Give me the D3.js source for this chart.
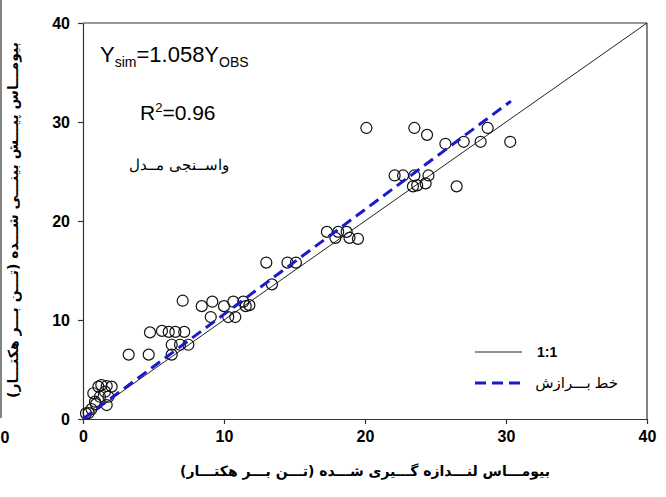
<!DOCTYPE html>
<html lang="fa">
<head>
	<meta charset="UTF-8">
	<script src="https://d3js.org/d3.v7.min.js"></script>
	<title>Biomass calibration</title>
	<style>
		body { margin: 0; background: #fff; }
		svg { display: block; }
		.tick text { font-family: "Liberation Sans", Arial, sans-serif; font-weight: bold; font-size: 16px; }
	</style>
</head>
<body>
	<svg width="666" height="497"></svg>
	<script>
		// observed vs simulated biomass (t/ha)
		const obs = [
			0.21, 0.85, 0.92, 0.73, 1.09, 1.3, 1.68, 2.03, 1.56, 1.2, 1.8, 1.68, 0.4, 0.6,
			3.24, 4.66, 4.75, 5.6, 6.08, 6.55, 7.18, 6.29, 6.88, 7.47, 6.29, 7.07,
			8.42, 9.17, 10.0, 10.66, 11.37, 11.54, 9.06, 10.3, 10.8,
			13.0, 14.5, 15.1, 13.4, 11.8,
			17.3, 17.9, 18.1, 18.7, 18.9, 19.5,
			20.1, 22.1, 22.7, 23.5, 24.5, 23.4, 23.7, 24.3, 26.5,
			23.5, 24.4, 25.7, 27.0, 28.2, 28.7, 30.3
		];
		const sim = [
			0.57, 1.75, 1.5, 2.6, 3.27, 3.43, 3.33, 3.27, 2.76, 2.25, 2.25, 1.41, 0.6, 1.0,
			6.5, 6.5, 8.75, 8.9, 8.8, 8.8, 8.8, 7.5, 7.5, 7.5, 6.5, 11.95,
			11.4, 11.85, 11.4, 11.85, 11.85, 11.4, 10.3, 10.3, 10.3,
			15.8, 15.8, 15.8, 13.6, 11.5,
			18.9, 18.3, 18.9, 18.9, 18.3, 18.2,
			29.4, 24.6, 24.6, 24.6, 24.6, 23.5, 23.6, 23.8, 23.5,
			29.4, 28.7, 27.8, 28.0, 28.0, 29.4, 28.0
		];
		const ticks = [0, 10, 20, 30, 40];
		const slope = 1.058;
		const fitEnd = 30.35;

		const svg = d3.select('svg');
		const x = d3.scaleLinear().domain([0, 40]).range([83, 647]);
		const y = d3.scaleLinear().domain([0, 40]).range([419, 23]);

		// stray edge of neighbouring panel
		svg.append('line').attr('x1', 1).attr('x2', 1).attr('y1', 0).attr('y2', 418)
			.attr('stroke', '#333').attr('stroke-width', 1.2);
		svg.append('text').attr('x', 5).attr('y', 443).attr('text-anchor', 'middle')
			.style('font-family', '"Liberation Sans", Arial, sans-serif').style('font-weight', 'bold')
			.style('font-size', '16px').text('0');

		// frame
		svg.append('line').attr('x1', x(0)).attr('x2', x(40)).attr('y1', y(40)).attr('y2', y(40))
			.attr('stroke', '#333').attr('stroke-width', 1.2);
		svg.append('line').attr('x1', x(40)).attr('x2', x(40)).attr('y1', y(40)).attr('y2', y(0))
			.attr('stroke', '#333').attr('stroke-width', 1.2);

		const xAxis = svg.append('g').attr('transform', `translate(0,${y(0)})`)
			.call(d3.axisBottom(x).tickValues(ticks).tickSize(5).tickPadding(7).tickSizeOuter(0));
		const yAxis = svg.append('g').attr('transform', `translate(${x(0)},0)`)
			.call(d3.axisLeft(y).tickValues(ticks).tickSize(5).tickPadding(8).tickSizeOuter(0));
		[xAxis, yAxis].forEach(a => {
			a.select('.domain').attr('stroke', '#333').attr('stroke-width', 1.2);
			a.selectAll('.tick line').attr('stroke', '#333').attr('stroke-width', 1.2);
			a.selectAll('.tick text').attr('fill', '#000');
		});

		// 1:1 line
		svg.append('line').attr('x1', x(0)).attr('y1', y(0)).attr('x2', x(40)).attr('y2', y(40))
			.attr('stroke', '#222').attr('stroke-width', 1);

		// points
		svg.append('g').selectAll('circle')
			.data(obs.map((d, i) => [d, sim[i]]))
			.enter().append('circle')
			.attr('cx', d => x(d[0])).attr('cy', d => y(d[1])).attr('r', 5.5)
			.attr('fill', 'none').attr('stroke', '#111').attr('stroke-width', 1.2);

		// fitted line
		svg.append('line').attr('x1', x(0)).attr('y1', y(0)).attr('x2', x(fitEnd)).attr('y2', y(slope * fitEnd))
			.attr('stroke', '#1a1acc').attr('stroke-width', 3).attr('stroke-dasharray', '11,6');

		// annotations
		const eq = svg.append('text').attr('x', 100).attr('y', 62)
			.style('font-family', '"Liberation Sans", Arial, sans-serif').style('font-size', '22px');
		eq.append('tspan').text('Y');
		eq.append('tspan').attr('dy', 5).style('font-size', '14px').text('sim');
		eq.append('tspan').attr('dy', -5).text('=1.058Y');
		eq.append('tspan').attr('dy', 5).style('font-size', '14px').text('OBS');

		const r2 = svg.append('text').attr('x', 140).attr('y', 120)
			.style('font-family', '"Liberation Sans", Arial, sans-serif').style('font-size', '21px');
		r2.append('tspan').text('R');
		r2.append('tspan').attr('dy', -8).style('font-size', '13px').text('2');
		r2.append('tspan').attr('dy', 8).text('=0.96');

		svg.append('text').attr('x', 179).attr('y', 170).attr('text-anchor', 'middle')
			.style('font-family', '"DejaVu Serif", "Liberation Serif", serif').style('font-size', '15px')
			.attr('direction', 'rtl').text('واســنجی مــدل');

		// legend
		svg.append('line').attr('x1', 475).attr('x2', 522).attr('y1', 352).attr('y2', 352)
			.attr('stroke', '#222').attr('stroke-width', 1);
		svg.append('text').attr('x', 537).attr('y', 357)
			.style('font-family', '"Liberation Sans", Arial, sans-serif').style('font-weight', 'bold')
			.style('font-size', '14px').text('1:1');
		svg.append('line').attr('x1', 475).attr('x2', 522).attr('y1', 383).attr('y2', 383)
			.attr('stroke', '#1a1acc').attr('stroke-width', 3).attr('stroke-dasharray', '11,6');
		svg.append('text').attr('x', 618).attr('y', 388).attr('text-anchor', 'start')
			.attr('direction', 'rtl')
			.style('font-family', '"Noto Sans", "DejaVu Sans", sans-serif')
			.style('font-size', '15px').text('خط بـــرازش');

		// axis titles
		svg.append('text').attr('x', 365).attr('y', 476).attr('text-anchor', 'middle')
			.attr('direction', 'rtl')
			.style('font-family', '"DejaVu Sans", sans-serif').style('font-weight', 'bold')
			.style('font-size', '14px').text('بیومـــاس لنـــدازه گـــیری شـــده (تـــن بـــر هکتـــار)');
		svg.append('text').attr('transform', 'translate(18,220) rotate(-90)').attr('text-anchor', 'middle')
			.attr('direction', 'rtl')
			.style('font-family', '"DejaVu Sans", sans-serif').style('font-weight', 'bold')
			.style('font-size', '14px').text('بیومـــاس پیـــش بینـــی شـــده (تـــن بـــر هکتـــار)');
	</script>
</body>
</html>
